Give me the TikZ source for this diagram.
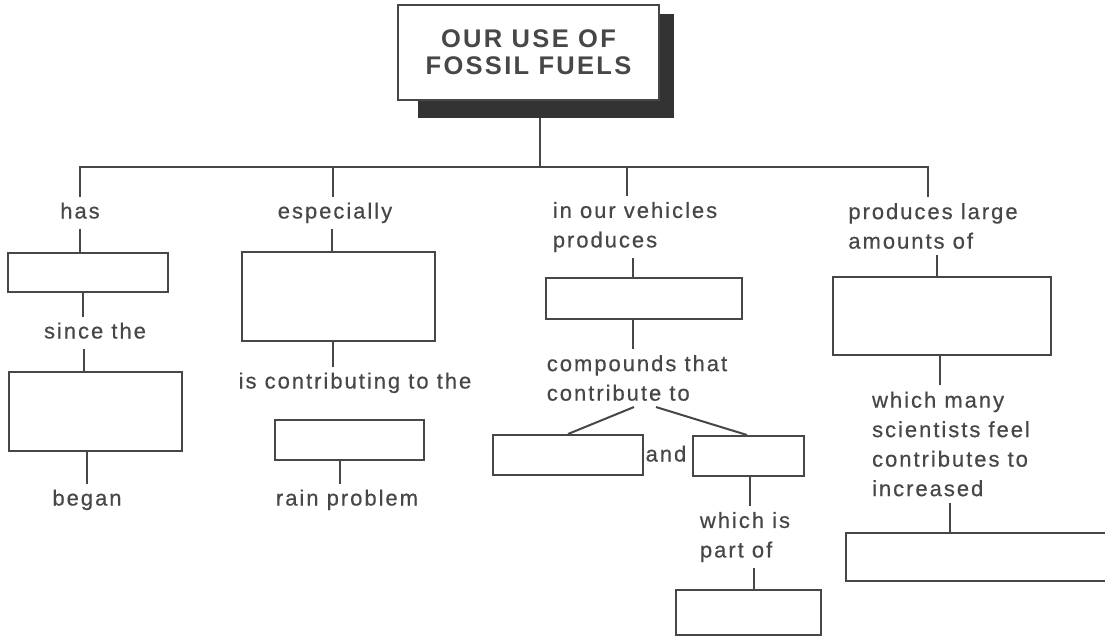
\documentclass[tikz,border=0pt]{standalone}
\usepackage{fontspec}
\usetikzlibrary{backgrounds}
\newfontfamily\lblfont[LetterSpace=9,FakeBold=0.5]{Liberation Sans}
\newfontfamily\ttlfont[LetterSpace=9]{Liberation Sans}
\definecolor{ink}{HTML}{474747}
\definecolor{shadowgray}{HTML}{333333}
\begin{document}
\begin{tikzpicture}[x=1pt,y=-1pt,
  conn/.style={line width=2pt,draw=ink},
  box/.style={draw=ink,line width=2pt,fill=white,inner sep=0pt,rectangle},
  lbl/.style={text=ink,inner xsep=0pt,inner ysep=6pt,text height=15pt,text depth=4pt,
    font=\lblfont\fontsize{22}{29.5}\selectfont},
  mlbl/.style={lbl,align=left,text height=,text depth=}
]
\useasboundingbox (0,0) rectangle (1105,637);

% title box with its shadow
\node[box,minimum width=261pt,minimum height=95pt,align=center,text=ink,
  font=\ttlfont\bfseries\fontsize{25.5}{27}\selectfont]
  (title) at (528.5,52.5) {OUR USE OF\\FOSSIL FUELS};
\begin{pgfonlayer}{background}
  \fill[white] (0,0) rectangle (1105,637);
  \fill[fill=shadowgray] ([xshift=21pt,yshift=-10pt]title.north west)
    rectangle ([xshift=14pt,yshift=-17pt]title.south east);
\end{pgfonlayer}
\coordinate (tbase) at ([yshift=-17pt]title.south);
\coordinate (hub) at (540,167);
\draw[conn] (hub) -- (hub |- tbase);

% column 1
\node[lbl] (has) at (80,213) {has};
\node[box,minimum width=160pt,minimum height=39pt] (b1) at (88,272.5) {};
\node[lbl] (since) at (95,333) {since the};
\node[box,minimum width=173pt,minimum height=79pt] (b2) at (95.5,411.5) {};
\node[lbl] (began) at (87,500) {began};
\draw[conn] (hub) -| (has.north);
\draw[conn] (has.south) -- (has.south |- b1.north);
\draw[conn] ([xshift=-12pt]since.north) -- ([xshift=-12pt]since.north |- b1.south);
\draw[conn] ([xshift=-11pt]since.south) -- ([xshift=-11pt]since.south |- b2.north);
\draw[conn] (began.north) -- (began.north |- b2.south);

% column 2
\node[lbl] (esp) at (335,213) {especially};
\node[box,minimum width=193pt,minimum height=89pt] (b3) at (338.5,296.5) {};
\node[lbl] (contrib) at (355,383) {is contributing to the};
\node[box,minimum width=149pt,minimum height=40pt] (b4) at (349.5,440) {};
\node[lbl] (rain) at (347,500) {rain problem};
\draw[conn] (hub) -| ([xshift=-2pt]esp.north);
\draw[conn] ([xshift=-3pt]esp.south) -- ([xshift=-3pt]esp.south |- b3.north);
\draw[conn] ([xshift=-22pt]contrib.north) -- ([xshift=-22pt]contrib.north |- b3.south);
\draw[conn] ([xshift=-7pt]rain.north) -- ([xshift=-7pt]rain.north |- b4.south);

% column 3
\node[mlbl] (veh) at (635,227) {in our vehicles\\produces};
\node[box,minimum width=196pt,minimum height=41pt] (b5) at (644,298.5) {};
\node[mlbl] (comp) at (637,378) {compounds that\\contribute to};
\node[box,minimum width=150pt,minimum height=40pt] (b6) at (568,455) {};
\node[lbl,inner ysep=0pt] (and) at (666,456) {and};
\node[box,minimum width=111pt,minimum height=40pt] (b7) at (748.5,456) {};
\node[mlbl] (which) at (745,537) {which is\\part of};
\node[box,minimum width=145pt,minimum height=45pt] (b8) at (748.5,612.5) {};
\draw[conn] (hub) -| ([xshift=-8pt]veh.north);
\draw[conn] ([xshift=-2pt]veh.south) -- ([xshift=-2pt]veh.south |- b5.north);
\draw[conn] ([xshift=-4pt]comp.north) -- ([xshift=-4pt]comp.north |- b5.south);
\draw[conn] ([xshift=-3pt]comp.south) -- (b6.north);
\draw[conn] ([xshift=19pt]comp.south) -- ([xshift=-1.5pt]b7.north);
\draw[conn] ([xshift=5pt]which.north) -- ([xshift=5pt]which.north |- b7.south);
\draw[conn] ([xshift=9pt]which.south) -- ([xshift=9pt]which.south |- b8.north);

% column 4
\node[mlbl] (prod) at (933,226) {produces large\\amounts of};
\node[box,minimum width=218pt,minimum height=78pt] (b9) at (942,316) {};
\node[mlbl] (sci) at (951,444) {which many\\scientists feel\\contributes to\\increased};
\node[box,minimum width=279pt,minimum height=48pt] (b10) at (985.5,557) {};
\draw[conn] (hub) -| ([xshift=-5pt]prod.north);
\draw[conn] ([xshift=4pt]prod.south) -- ([xshift=4pt]prod.south |- b9.north);
\draw[conn] ([xshift=-11pt]sci.north) -- ([xshift=-11pt]sci.north |- b9.south);
\draw[conn] ([xshift=-1pt]sci.south) -- ([xshift=-1pt]sci.south |- b10.north);
\end{tikzpicture}
\end{document}
